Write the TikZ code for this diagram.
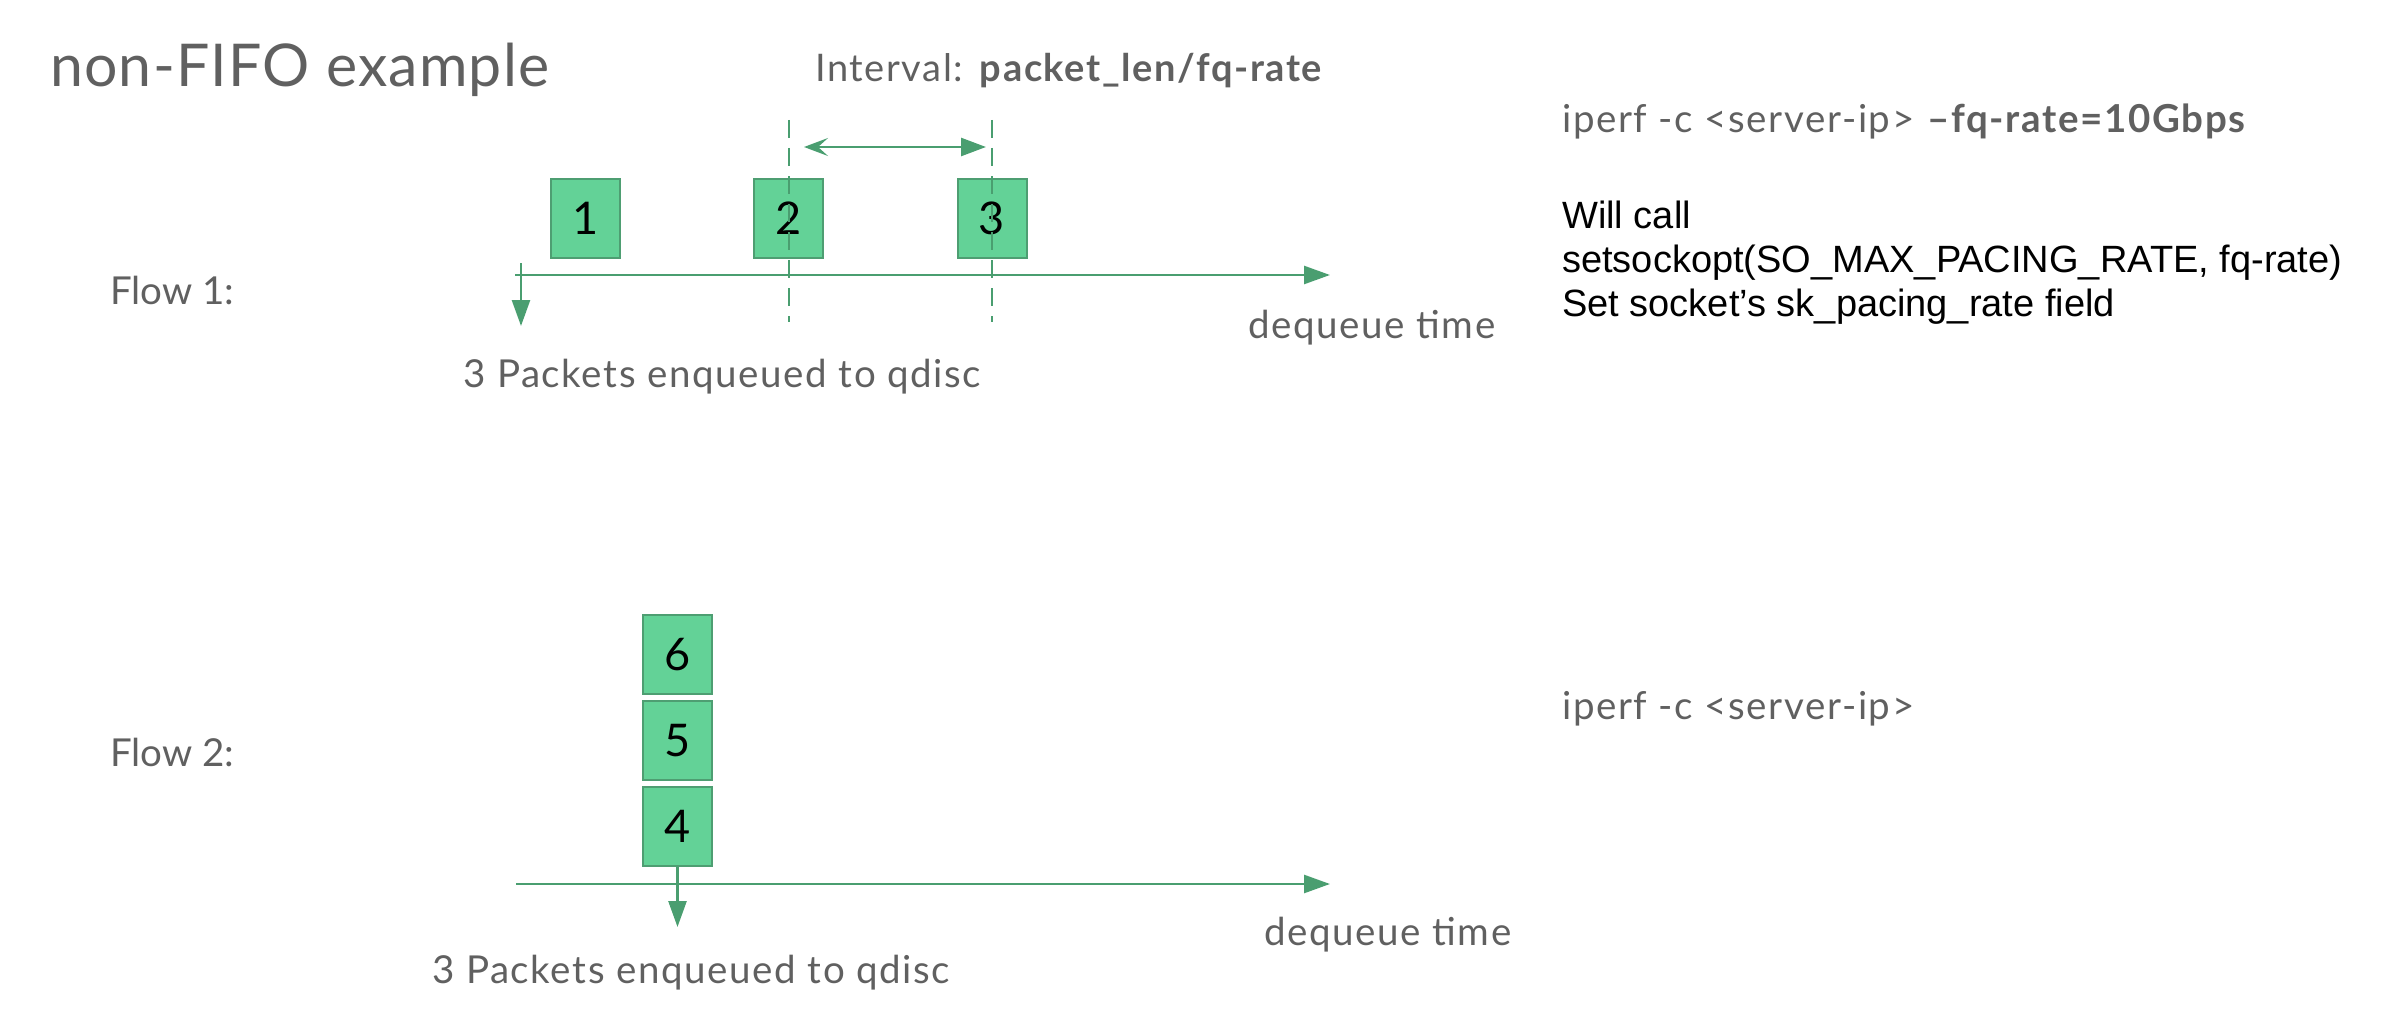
\documentclass[tikz,border=0pt]{standalone}
\usepackage{fontspec}
\setmainfont{Lato}
\newfontfamily\lblfont[LetterSpace=4.2]{Lato}
\newfontfamily\ttlfont[LetterSpace=2]{Lato}
\newfontfamily\arialf{Liberation Sans}
\usetikzlibrary{arrows.meta}
\definecolor{pktfill}{HTML}{63D297}
\definecolor{pktedge}{HTML}{4E9E72}
\definecolor{lnclr}{HTML}{4A9E70}
\definecolor{txtgray}{HTML}{606060}
\tikzset{
  pkt/.style={draw=pktedge, line width=2pt, fill=pktfill, minimum width=69pt, minimum height=79pt, inner sep=0pt, font=\fontsize{45}{50}\selectfont, text=black},
  axisline/.style={draw=lnclr, line width=2.6pt, -{Triangle[length=26pt,width=18pt]}},
  downarrow/.style={draw=lnclr, line width=2.6pt, -{Triangle[length=26pt,width=18pt]}},
  dashline/.style={draw=lnclr, line width=2.4pt, dash pattern=on 18pt off 10pt},
  intarrow/.style={draw=lnclr, line width=2.6pt, {Stealth[length=24pt,width=18pt,inset=10pt]}-{Triangle[length=25pt,width=18pt]}},
  graytxt/.style={text=txtgray, inner sep=0pt, anchor=west, font=\lblfont\fontsize{38.5}{44}\selectfont},
  flowtxt/.style={text=txtgray, inner sep=0pt, anchor=west, font=\fontsize{38.5}{44}\selectfont},
  blacktxt/.style={text=black, inner sep=0pt, anchor=west, font=\arialf\fontsize{38}{46}\selectfont},
}
\begin{document}
\begin{tikzpicture}[x=1pt,y=-1pt]
\useasboundingbox (0,0) rectangle (2396,1014);
% title
\node[text=txtgray, inner sep=0pt, anchor=base west, font=\ttlfont\fontsize{59}{68}\selectfont] (title) at (50,86.7) {non-FIFO example};
\node[text=txtgray, inner sep=0pt, anchor=base west, font=\lblfont\fontsize{38}{44}\selectfont] (interval) at (815,81.7) {Interval: \textbf{packet\_len/fq-rate}};

% Flow 1 packets
\node[pkt] (p1) at (585.5,218) {1};
\node[pkt] (p2) at (788.5,218) {2};
\node[pkt] (p3) at (992,218) {3};

% dashed guides
\coordinate (d2t) at (789,120);
\coordinate (d2b) at (789,322);
\coordinate (d3t) at (992,120);
\coordinate (d3b) at (992,322);
\draw[dashline] (d2t) -- (d2b);
\draw[dashline] (d3t) -- (d3b);

% interval arrow
\coordinate (ia) at (804,147);
\coordinate (ib) at (986,147);
\draw[intarrow] (ia) -- (ib);

% Flow 1 axis
\coordinate (a1s) at (515,275);
\coordinate (a1e) at (1330,275);
\draw[axisline] (a1s) -- (a1e);
\coordinate (e1s) at (521,263);
\coordinate (e1e) at (521,326);
\draw[downarrow] (e1s) -- (e1e);

\node[flowtxt] (flow1) at (110,290) {Flow 1:};
\node[graytxt] (dq1) at (1248,328) {dequeue time};
\node[graytxt] (enq1) at (463,377) {3 Packets enqueued to qdisc};

% Flow 2 packets
\node[pkt] (p6) at (677.5,654.5) {6};
\node[pkt] (p5) at (677.5,740.5) {5};
\node[pkt] (p4) at (677.5,826.5) {4};

\coordinate (a2s) at (516,884);
\coordinate (a2e) at (1330,884);
\draw[axisline] (a2s) -- (a2e);
\coordinate (e2e) at (677.5,927);
\draw[downarrow] (p4.south) -- (e2e);

\node[flowtxt] (flow2) at (110,752) {Flow 2:};
\node[graytxt] (dq2) at (1264,935) {dequeue time};
\node[graytxt] (enq2) at (432,973) {3 Packets enqueued to qdisc};

% right side texts
\node[graytxt] (ip1) at (1562,121) {iperf -c <server-ip> \textbf{–fq-rate=10Gbps}};
\node[blacktxt] (wc) at (1562,215) {Will call};
\node[blacktxt] (ss) at (1562,263) {setsockopt(SO\_MAX\_PACING\_RATE, fq-rate)};
\node[blacktxt] (sk) at (1562,307) {Set socket’s sk\_pacing\_rate field};
\node[graytxt] (ip2) at (1562,709) {iperf -c <server-ip>};
\end{tikzpicture}
\end{document}
